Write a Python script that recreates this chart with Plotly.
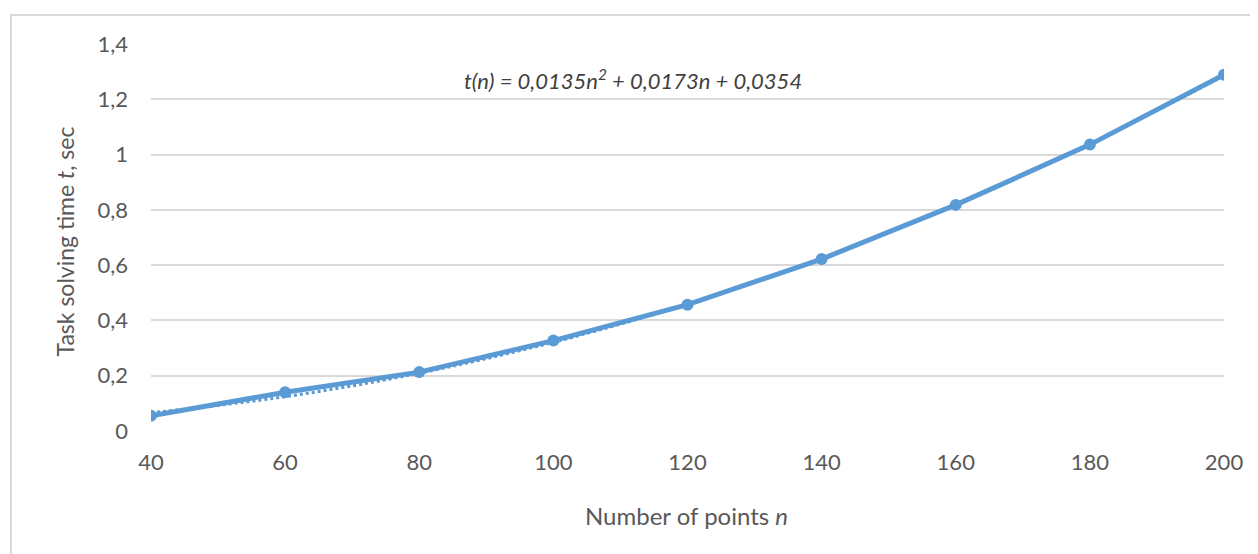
import plotly.graph_objects as go

# number of points n (category labels on the x axis)
points = [40, 60, 80, 100, 120, 140, 160, 180, 200]
# measured task solving time, sec
solve_time = [0.055, 0.140, 0.213, 0.327, 0.457, 0.622, 0.818, 1.036, 1.289]
# polynomial trendline values read at each category
trend_time = [0.066, 0.124, 0.209, 0.321, 0.459, 0.625, 0.818, 1.038, 1.285]

y_ticks = [0, 0.2, 0.4, 0.6, 0.8, 1, 1.2, 1.4]

blue = '#5B9BD5'
grey_text = '#595959'
font_name = 'Lato'

fig = go.Figure()

fig.add_trace(go.Scatter(
    x=points, y=trend_time, mode='lines',
    line=dict(color=blue, width=3, dash='dot', shape='spline'),
    hoverinfo='skip', showlegend=False))

fig.add_trace(go.Scatter(
    x=points, y=solve_time, mode='lines+markers',
    line=dict(color=blue, width=5),
    marker=dict(color=blue, size=12),
    showlegend=False))

fig.update_xaxes(
    range=[40, 200], tickvals=points, showgrid=False, zeroline=False,
    showline=False, ticks='', ticklabelstandoff=16,
    tickfont=dict(family=font_name, size=22, color=grey_text))

fig.update_yaxes(
    range=[0, 1.4], tickvals=y_ticks, showgrid=True, gridcolor='#d9d9d9',
    gridwidth=1.5, zeroline=False, showline=False, ticks='',
    ticklabelstandoff=22,
    tickfont=dict(family=font_name, size=22, color=grey_text))

# frame around the chart (runs off the right and bottom edges)
fig.add_shape(type='path', xref='paper', yref='paper',
              path='M -0.1305,-0.5 L -0.1305,1.0749 L 1.2,1.0749',
              line=dict(color='#d9d9d9', width=2))

fig.add_annotation(
    text='<i>t(n) = 0,0135n<sup>2</sup> + 0,0173n + 0,0354</i>',
    x=0.449, y=0.908, xref='paper', yref='paper', showarrow=False,
    xanchor='center', yanchor='middle',
    font=dict(family=font_name, size=22, color='#404040'))

fig.add_annotation(
    text='Number of points <i>n</i>',
    x=0.499, y=-0.218, xref='paper', yref='paper', showarrow=False,
    xanchor='center', yanchor='middle',
    font=dict(family=font_name, size=24, color=grey_text))

fig.add_annotation(
    text='Task solving time <i>t</i>, sec',
    x=-0.080, y=0.49, xref='paper', yref='paper', showarrow=False,
    xanchor='center', yanchor='middle', textangle=-90,
    font=dict(family=font_name, size=23, color=grey_text))

# the page body adds an 8px offset, so the figure is 8px smaller and shifted
fig.update_layout(
    width=1250, height=546,
    margin=dict(l=143, r=34, t=36, b=123),
    paper_bgcolor='white', plot_bgcolor='white',
    separators=', ',
    hovermode='closest')

fig.write_html("out.html")
